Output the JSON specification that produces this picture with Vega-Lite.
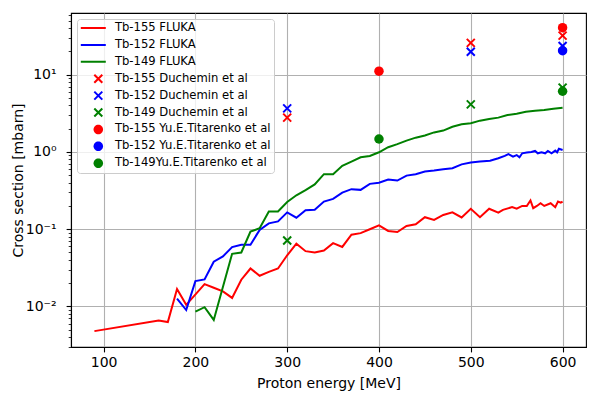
{
  "$schema": "https://vega.github.io/schema/vega-lite/v6.json",
  "width": 515,
  "height": 334,
  "autosize": {"type": "none"},
  "padding": {"left": 71, "top": 13, "right": 22, "bottom": 51},
  "background": "white",
  "config": {
    "font": "DejaVu Sans",
    "axis": {"labelFont": "DejaVu Sans", "titleFont": "DejaVu Sans", "labelColor": "black", "titleColor": "black", "tickColor": "black", "domainColor": "black", "gridColor": "#b0b0b0", "gridWidth": 1.1, "titleFontWeight": "normal", "tickWidth": 1.1, "domainWidth": 1.1},
    "view": {"stroke": "black", "strokeWidth": 1.1}
  },
  "data": {
    "values": [
      {"series": "Tb-155 FLUKA", "kind": "FLUKA", "energy": 90, "xs": 0.0048},
      {"series": "Tb-155 FLUKA", "kind": "FLUKA", "energy": 160, "xs": 0.0066},
      {"series": "Tb-155 FLUKA", "kind": "FLUKA", "energy": 170, "xs": 0.0063},
      {"series": "Tb-155 FLUKA", "kind": "FLUKA", "energy": 180, "xs": 0.0168},
      {"series": "Tb-155 FLUKA", "kind": "FLUKA", "energy": 190, "xs": 0.0105},
      {"series": "Tb-155 FLUKA", "kind": "FLUKA", "energy": 210, "xs": 0.0195},
      {"series": "Tb-155 FLUKA", "kind": "FLUKA", "energy": 220, "xs": 0.0175},
      {"series": "Tb-155 FLUKA", "kind": "FLUKA", "energy": 230, "xs": 0.0157},
      {"series": "Tb-155 FLUKA", "kind": "FLUKA", "energy": 240, "xs": 0.0129},
      {"series": "Tb-155 FLUKA", "kind": "FLUKA", "energy": 250, "xs": 0.0222},
      {"series": "Tb-155 FLUKA", "kind": "FLUKA", "energy": 260, "xs": 0.031},
      {"series": "Tb-155 FLUKA", "kind": "FLUKA", "energy": 270, "xs": 0.025},
      {"series": "Tb-155 FLUKA", "kind": "FLUKA", "energy": 280, "xs": 0.028},
      {"series": "Tb-155 FLUKA", "kind": "FLUKA", "energy": 290, "xs": 0.031},
      {"series": "Tb-155 FLUKA", "kind": "FLUKA", "energy": 300, "xs": 0.046},
      {"series": "Tb-155 FLUKA", "kind": "FLUKA", "energy": 310, "xs": 0.065},
      {"series": "Tb-155 FLUKA", "kind": "FLUKA", "energy": 320, "xs": 0.052},
      {"series": "Tb-155 FLUKA", "kind": "FLUKA", "energy": 330, "xs": 0.050},
      {"series": "Tb-155 FLUKA", "kind": "FLUKA", "energy": 340, "xs": 0.053},
      {"series": "Tb-155 FLUKA", "kind": "FLUKA", "energy": 350, "xs": 0.066},
      {"series": "Tb-155 FLUKA", "kind": "FLUKA", "energy": 360, "xs": 0.059},
      {"series": "Tb-155 FLUKA", "kind": "FLUKA", "energy": 370, "xs": 0.085},
      {"series": "Tb-155 FLUKA", "kind": "FLUKA", "energy": 380, "xs": 0.089},
      {"series": "Tb-155 FLUKA", "kind": "FLUKA", "energy": 390, "xs": 0.1},
      {"series": "Tb-155 FLUKA", "kind": "FLUKA", "energy": 400, "xs": 0.112},
      {"series": "Tb-155 FLUKA", "kind": "FLUKA", "energy": 410, "xs": 0.095},
      {"series": "Tb-155 FLUKA", "kind": "FLUKA", "energy": 420, "xs": 0.092},
      {"series": "Tb-155 FLUKA", "kind": "FLUKA", "energy": 430, "xs": 0.11},
      {"series": "Tb-155 FLUKA", "kind": "FLUKA", "energy": 440, "xs": 0.116},
      {"series": "Tb-155 FLUKA", "kind": "FLUKA", "energy": 450, "xs": 0.143},
      {"series": "Tb-155 FLUKA", "kind": "FLUKA", "energy": 460, "xs": 0.132},
      {"series": "Tb-155 FLUKA", "kind": "FLUKA", "energy": 470, "xs": 0.153},
      {"series": "Tb-155 FLUKA", "kind": "FLUKA", "energy": 480, "xs": 0.165},
      {"series": "Tb-155 FLUKA", "kind": "FLUKA", "energy": 490, "xs": 0.142},
      {"series": "Tb-155 FLUKA", "kind": "FLUKA", "energy": 500, "xs": 0.184},
      {"series": "Tb-155 FLUKA", "kind": "FLUKA", "energy": 510, "xs": 0.143},
      {"series": "Tb-155 FLUKA", "kind": "FLUKA", "energy": 520, "xs": 0.184},
      {"series": "Tb-155 FLUKA", "kind": "FLUKA", "energy": 530, "xs": 0.164},
      {"series": "Tb-155 FLUKA", "kind": "FLUKA", "energy": 535, "xs": 0.178},
      {"series": "Tb-155 FLUKA", "kind": "FLUKA", "energy": 545, "xs": 0.193},
      {"series": "Tb-155 FLUKA", "kind": "FLUKA", "energy": 550, "xs": 0.184},
      {"series": "Tb-155 FLUKA", "kind": "FLUKA", "energy": 556, "xs": 0.2},
      {"series": "Tb-155 FLUKA", "kind": "FLUKA", "energy": 561, "xs": 0.2},
      {"series": "Tb-155 FLUKA", "kind": "FLUKA", "energy": 565, "xs": 0.235},
      {"series": "Tb-155 FLUKA", "kind": "FLUKA", "energy": 568, "xs": 0.187},
      {"series": "Tb-155 FLUKA", "kind": "FLUKA", "energy": 572, "xs": 0.2},
      {"series": "Tb-155 FLUKA", "kind": "FLUKA", "energy": 576, "xs": 0.217},
      {"series": "Tb-155 FLUKA", "kind": "FLUKA", "energy": 580, "xs": 0.2},
      {"series": "Tb-155 FLUKA", "kind": "FLUKA", "energy": 587, "xs": 0.217},
      {"series": "Tb-155 FLUKA", "kind": "FLUKA", "energy": 592, "xs": 0.193},
      {"series": "Tb-155 FLUKA", "kind": "FLUKA", "energy": 595, "xs": 0.228},
      {"series": "Tb-155 FLUKA", "kind": "FLUKA", "energy": 598, "xs": 0.221},
      {"series": "Tb-155 FLUKA", "kind": "FLUKA", "energy": 600, "xs": 0.228},
      {"series": "Tb-152 FLUKA", "kind": "FLUKA", "energy": 180, "xs": 0.0126},
      {"series": "Tb-152 FLUKA", "kind": "FLUKA", "energy": 190, "xs": 0.0090},
      {"series": "Tb-152 FLUKA", "kind": "FLUKA", "energy": 200, "xs": 0.0213},
      {"series": "Tb-152 FLUKA", "kind": "FLUKA", "energy": 210, "xs": 0.0224},
      {"series": "Tb-152 FLUKA", "kind": "FLUKA", "energy": 220, "xs": 0.038},
      {"series": "Tb-152 FLUKA", "kind": "FLUKA", "energy": 230, "xs": 0.0445},
      {"series": "Tb-152 FLUKA", "kind": "FLUKA", "energy": 240, "xs": 0.0587},
      {"series": "Tb-152 FLUKA", "kind": "FLUKA", "energy": 250, "xs": 0.063},
      {"series": "Tb-152 FLUKA", "kind": "FLUKA", "energy": 260, "xs": 0.063},
      {"series": "Tb-152 FLUKA", "kind": "FLUKA", "energy": 270, "xs": 0.098},
      {"series": "Tb-152 FLUKA", "kind": "FLUKA", "energy": 280, "xs": 0.119},
      {"series": "Tb-152 FLUKA", "kind": "FLUKA", "energy": 290, "xs": 0.126},
      {"series": "Tb-152 FLUKA", "kind": "FLUKA", "energy": 300, "xs": 0.165},
      {"series": "Tb-152 FLUKA", "kind": "FLUKA", "energy": 310, "xs": 0.141},
      {"series": "Tb-152 FLUKA", "kind": "FLUKA", "energy": 320, "xs": 0.176},
      {"series": "Tb-152 FLUKA", "kind": "FLUKA", "energy": 330, "xs": 0.179},
      {"series": "Tb-152 FLUKA", "kind": "FLUKA", "energy": 340, "xs": 0.228},
      {"series": "Tb-152 FLUKA", "kind": "FLUKA", "energy": 350, "xs": 0.247},
      {"series": "Tb-152 FLUKA", "kind": "FLUKA", "energy": 360, "xs": 0.298},
      {"series": "Tb-152 FLUKA", "kind": "FLUKA", "energy": 370, "xs": 0.33},
      {"series": "Tb-152 FLUKA", "kind": "FLUKA", "energy": 380, "xs": 0.323},
      {"series": "Tb-152 FLUKA", "kind": "FLUKA", "energy": 390, "xs": 0.386},
      {"series": "Tb-152 FLUKA", "kind": "FLUKA", "energy": 400, "xs": 0.40},
      {"series": "Tb-152 FLUKA", "kind": "FLUKA", "energy": 410, "xs": 0.44},
      {"series": "Tb-152 FLUKA", "kind": "FLUKA", "energy": 420, "xs": 0.426},
      {"series": "Tb-152 FLUKA", "kind": "FLUKA", "energy": 430, "xs": 0.494},
      {"series": "Tb-152 FLUKA", "kind": "FLUKA", "energy": 440, "xs": 0.515},
      {"series": "Tb-152 FLUKA", "kind": "FLUKA", "energy": 450, "xs": 0.557},
      {"series": "Tb-152 FLUKA", "kind": "FLUKA", "energy": 460, "xs": 0.574},
      {"series": "Tb-152 FLUKA", "kind": "FLUKA", "energy": 470, "xs": 0.597},
      {"series": "Tb-152 FLUKA", "kind": "FLUKA", "energy": 480, "xs": 0.615},
      {"series": "Tb-152 FLUKA", "kind": "FLUKA", "energy": 490, "xs": 0.69},
      {"series": "Tb-152 FLUKA", "kind": "FLUKA", "energy": 500, "xs": 0.728},
      {"series": "Tb-152 FLUKA", "kind": "FLUKA", "energy": 510, "xs": 0.75},
      {"series": "Tb-152 FLUKA", "kind": "FLUKA", "energy": 521, "xs": 0.77},
      {"series": "Tb-152 FLUKA", "kind": "FLUKA", "energy": 530, "xs": 0.83},
      {"series": "Tb-152 FLUKA", "kind": "FLUKA", "energy": 537, "xs": 0.89},
      {"series": "Tb-152 FLUKA", "kind": "FLUKA", "energy": 541, "xs": 0.94},
      {"series": "Tb-152 FLUKA", "kind": "FLUKA", "energy": 546, "xs": 0.87},
      {"series": "Tb-152 FLUKA", "kind": "FLUKA", "energy": 550, "xs": 0.91},
      {"series": "Tb-152 FLUKA", "kind": "FLUKA", "energy": 553, "xs": 0.85},
      {"series": "Tb-152 FLUKA", "kind": "FLUKA", "energy": 556, "xs": 0.96},
      {"series": "Tb-152 FLUKA", "kind": "FLUKA", "energy": 561, "xs": 0.98},
      {"series": "Tb-152 FLUKA", "kind": "FLUKA", "energy": 566, "xs": 1.0},
      {"series": "Tb-152 FLUKA", "kind": "FLUKA", "energy": 570, "xs": 1.03},
      {"series": "Tb-152 FLUKA", "kind": "FLUKA", "energy": 573, "xs": 0.96},
      {"series": "Tb-152 FLUKA", "kind": "FLUKA", "energy": 577, "xs": 0.99},
      {"series": "Tb-152 FLUKA", "kind": "FLUKA", "energy": 581, "xs": 0.96},
      {"series": "Tb-152 FLUKA", "kind": "FLUKA", "energy": 584, "xs": 1.03},
      {"series": "Tb-152 FLUKA", "kind": "FLUKA", "energy": 588, "xs": 0.96},
      {"series": "Tb-152 FLUKA", "kind": "FLUKA", "energy": 592, "xs": 1.04},
      {"series": "Tb-152 FLUKA", "kind": "FLUKA", "energy": 594, "xs": 0.99},
      {"series": "Tb-152 FLUKA", "kind": "FLUKA", "energy": 596, "xs": 1.10},
      {"series": "Tb-152 FLUKA", "kind": "FLUKA", "energy": 600, "xs": 1.06},
      {"series": "Tb-149 FLUKA", "kind": "FLUKA", "energy": 200, "xs": 0.0086},
      {"series": "Tb-149 FLUKA", "kind": "FLUKA", "energy": 210, "xs": 0.0098},
      {"series": "Tb-149 FLUKA", "kind": "FLUKA", "energy": 220, "xs": 0.0067},
      {"series": "Tb-149 FLUKA", "kind": "FLUKA", "energy": 240, "xs": 0.048},
      {"series": "Tb-149 FLUKA", "kind": "FLUKA", "energy": 250, "xs": 0.050},
      {"series": "Tb-149 FLUKA", "kind": "FLUKA", "energy": 260, "xs": 0.093},
      {"series": "Tb-149 FLUKA", "kind": "FLUKA", "energy": 270, "xs": 0.103},
      {"series": "Tb-149 FLUKA", "kind": "FLUKA", "energy": 280, "xs": 0.17},
      {"series": "Tb-149 FLUKA", "kind": "FLUKA", "energy": 290, "xs": 0.17},
      {"series": "Tb-149 FLUKA", "kind": "FLUKA", "energy": 300, "xs": 0.225},
      {"series": "Tb-149 FLUKA", "kind": "FLUKA", "energy": 310, "xs": 0.275},
      {"series": "Tb-149 FLUKA", "kind": "FLUKA", "energy": 320, "xs": 0.32},
      {"series": "Tb-149 FLUKA", "kind": "FLUKA", "energy": 330, "xs": 0.38},
      {"series": "Tb-149 FLUKA", "kind": "FLUKA", "energy": 340, "xs": 0.515},
      {"series": "Tb-149 FLUKA", "kind": "FLUKA", "energy": 350, "xs": 0.515},
      {"series": "Tb-149 FLUKA", "kind": "FLUKA", "energy": 360, "xs": 0.66},
      {"series": "Tb-149 FLUKA", "kind": "FLUKA", "energy": 370, "xs": 0.75},
      {"series": "Tb-149 FLUKA", "kind": "FLUKA", "energy": 380, "xs": 0.853},
      {"series": "Tb-149 FLUKA", "kind": "FLUKA", "energy": 390, "xs": 0.888},
      {"series": "Tb-149 FLUKA", "kind": "FLUKA", "energy": 400, "xs": 0.99},
      {"series": "Tb-149 FLUKA", "kind": "FLUKA", "energy": 410, "xs": 1.15},
      {"series": "Tb-149 FLUKA", "kind": "FLUKA", "energy": 420, "xs": 1.26},
      {"series": "Tb-149 FLUKA", "kind": "FLUKA", "energy": 430, "xs": 1.4},
      {"series": "Tb-149 FLUKA", "kind": "FLUKA", "energy": 440, "xs": 1.53},
      {"series": "Tb-149 FLUKA", "kind": "FLUKA", "energy": 450, "xs": 1.63},
      {"series": "Tb-149 FLUKA", "kind": "FLUKA", "energy": 460, "xs": 1.79},
      {"series": "Tb-149 FLUKA", "kind": "FLUKA", "energy": 470, "xs": 1.89},
      {"series": "Tb-149 FLUKA", "kind": "FLUKA", "energy": 480, "xs": 2.12},
      {"series": "Tb-149 FLUKA", "kind": "FLUKA", "energy": 490, "xs": 2.28},
      {"series": "Tb-149 FLUKA", "kind": "FLUKA", "energy": 500, "xs": 2.35},
      {"series": "Tb-149 FLUKA", "kind": "FLUKA", "energy": 510, "xs": 2.54},
      {"series": "Tb-149 FLUKA", "kind": "FLUKA", "energy": 520, "xs": 2.67},
      {"series": "Tb-149 FLUKA", "kind": "FLUKA", "energy": 530, "xs": 2.78},
      {"series": "Tb-149 FLUKA", "kind": "FLUKA", "energy": 540, "xs": 3.0},
      {"series": "Tb-149 FLUKA", "kind": "FLUKA", "energy": 550, "xs": 3.13},
      {"series": "Tb-149 FLUKA", "kind": "FLUKA", "energy": 560, "xs": 3.32},
      {"series": "Tb-149 FLUKA", "kind": "FLUKA", "energy": 570, "xs": 3.42},
      {"series": "Tb-149 FLUKA", "kind": "FLUKA", "energy": 580, "xs": 3.49},
      {"series": "Tb-149 FLUKA", "kind": "FLUKA", "energy": 590, "xs": 3.63},
      {"series": "Tb-149 FLUKA", "kind": "FLUKA", "energy": 600, "xs": 3.74},
      {"series": "Tb-155 Duchemin et al", "kind": "Duchemin", "energy": 300, "xs": 2.78},
      {"series": "Tb-155 Duchemin et al", "kind": "Duchemin", "energy": 500, "xs": 25.8},
      {"series": "Tb-155 Duchemin et al", "kind": "Duchemin", "energy": 600, "xs": 32},
      {"series": "Tb-152 Duchemin et al", "kind": "Duchemin", "energy": 300, "xs": 3.66},
      {"series": "Tb-152 Duchemin et al", "kind": "Duchemin", "energy": 500, "xs": 19.8},
      {"series": "Tb-152 Duchemin et al", "kind": "Duchemin", "energy": 600, "xs": 23.5},
      {"series": "Tb-149 Duchemin et al", "kind": "Duchemin", "energy": 300, "xs": 0.0716},
      {"series": "Tb-149 Duchemin et al", "kind": "Duchemin", "energy": 500, "xs": 4.13},
      {"series": "Tb-149 Duchemin et al", "kind": "Duchemin", "energy": 600, "xs": 6.8},
      {"series": "Tb-155 Yu.E.Titarenko et al", "kind": "Titarenko", "energy": 400, "xs": 11.1},
      {"series": "Tb-155 Yu.E.Titarenko et al", "kind": "Titarenko", "energy": 600, "xs": 40.5},
      {"series": "Tb-152 Yu.E.Titarenko et al", "kind": "Titarenko", "energy": 600, "xs": 20.4},
      {"series": "Tb-149Yu.E.Titarenko et al", "kind": "Titarenko", "energy": 400, "xs": 1.47},
      {"series": "Tb-149Yu.E.Titarenko et al", "kind": "Titarenko", "energy": 600, "xs": 6.1}
    ]
  },
  "encoding": {
    "x": {"field": "energy", "type": "quantitative", "scale": {"domain": [64.5, 625.5], "nice": false, "zero": false},
      "axis": {"values": [100, 200, 300, 400, 500, 600], "title": "Proton energy [MeV]", "labelFontSize": 14, "titleFontSize": 14, "tickSize": 4.9, "labelPadding": 3.5, "titlePadding": 7, "grid": true, "labelFlush": false}},
    "color": {"field": "series", "type": "nominal",
      "scale": {"domain": ["Tb-155 FLUKA", "Tb-152 FLUKA", "Tb-149 FLUKA", "Tb-155 Duchemin et al", "Tb-152 Duchemin et al", "Tb-149 Duchemin et al", "Tb-155 Yu.E.Titarenko et al", "Tb-152 Yu.E.Titarenko et al", "Tb-149Yu.E.Titarenko et al"],
        "range": ["#ff0000", "#0000ff", "#008000", "#ff0000", "#0000ff", "#008000", "#ff0000", "#0000ff", "#008000"]},
      "legend": {"title": null, "orient": "none", "legendX": 6, "legendY": 6, "fillColor": "rgba(255,255,255,0.8)", "strokeColor": "#cccccc", "cornerRadius": 3, "padding": 3, "rowPadding": 4.9, "clipHeight": 12, "labelFont": "DejaVu Sans", "labelFontSize": 11.6, "labelColor": "black", "labelLimit": 400, "labelOffset": 23.3, "symbolSize": 100,
        "encode": {"symbols": {"update": {
          "shape": {"signal": "test(/FLUKA/, datum.value) ? 'M-1,0L4,0' : test(/Duchemin/, datum.value) ? 'M1.7,-0.8L3.3,0.8M1.7,0.8L3.3,-0.8' : 'M3.45,0A0.95,0.95,0,1,1,1.55,0A0.95,0.95,0,1,1,3.45,0Z'"},
          "fill": {"signal": "test(/Titarenko/, datum.value) ? scale('color', datum.value) : 'transparent'"},
          "stroke": {"signal": "scale('color', datum.value)"},
          "strokeWidth": {"signal": "test(/Titarenko/, datum.value) ? 0 : 2"},
          "size": {"value": 100},
          "opacity": {"value": 1},
          "fillOpacity": {"value": 1},
          "strokeOpacity": {"value": 1}
        }}}}
    }
  },
  "layer": [
    {
      "transform": [{"filter": "datum.kind == 'FLUKA'"}],
      "mark": {"type": "line", "strokeWidth": 2, "clip": true},
      "encoding": {
        "y": {"field": "xs", "type": "quantitative", "scale": {"type": "log", "domain": [0.00299, 62.8], "nice": false},
          "axis": {"orient": "left", "values": [0.01, 0.1, 1, 10], "labelExpr": "datum.value >= 9 ? '10¹' : datum.value >= 0.9 ? '10⁰' : datum.value >= 0.09 ? '10⁻¹' : '10⁻²'", "title": "Cross section [mbarn]", "labelFontSize": 14, "titleFontSize": 14, "tickSize": 4.9, "labelPadding": 10, "titlePadding": 0, "grid": true}}
      }
    },
    {
      "transform": [{"filter": "datum.kind == 'Duchemin'"}],
      "mark": {"type": "point", "shape": "M-1,-1L1,1M-1,1L1,-1", "filled": false, "strokeWidth": 2, "size": 64, "opacity": 1},
      "encoding": {
        "y": {"field": "xs", "type": "quantitative",
          "axis": {"orient": "left", "values": [0.003, 0.004, 0.005, 0.006, 0.007, 0.008, 0.009, 0.02, 0.03, 0.04, 0.05, 0.06, 0.07, 0.08, 0.09, 0.2, 0.3, 0.4, 0.5, 0.6, 0.7, 0.8, 0.9, 2, 3, 4, 5, 6, 7, 8, 9, 20, 30, 40, 50, 60], "labels": false, "title": null, "grid": false, "domain": false, "tickSize": 2.8, "tickWidth": 0.8}}
      }
    },
    {
      "transform": [{"filter": "datum.kind == 'Titarenko'"}],
      "mark": {"type": "circle", "size": 90, "opacity": 1},
      "encoding": {
        "y": {"field": "xs", "type": "quantitative", "axis": null}
      }
    }
  ],
  "resolve": {"axis": {"y": "independent"}}
}
